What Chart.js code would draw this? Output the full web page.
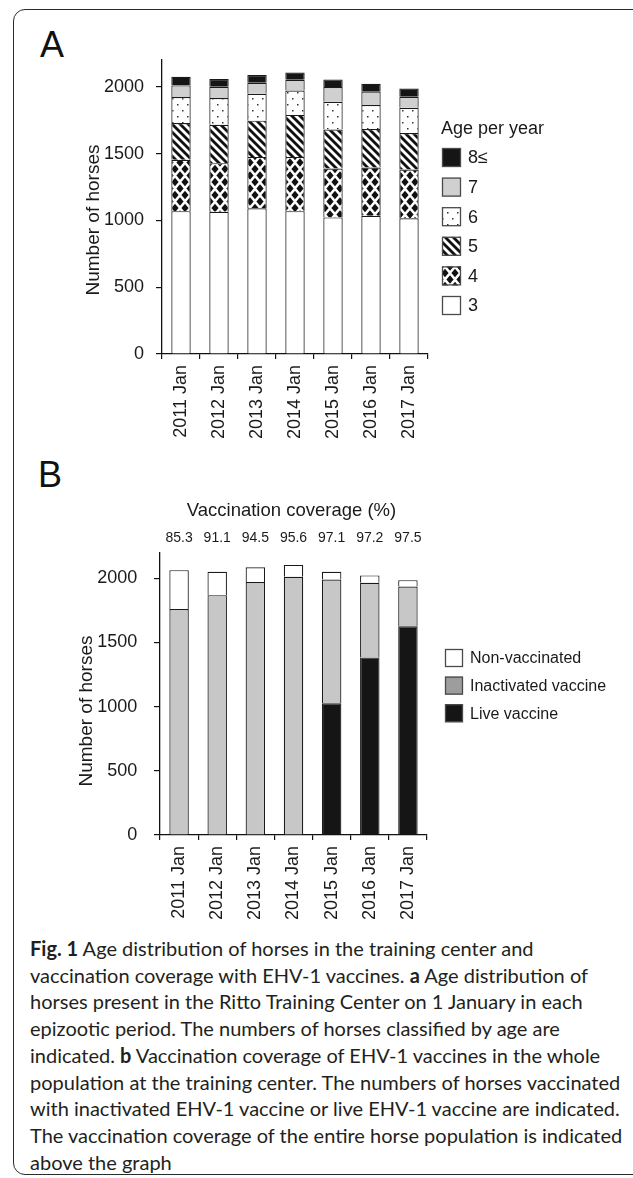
<!DOCTYPE html>
<html>
<head>
<meta charset="utf-8">
<script src="https://cdn.jsdelivr.net/npm/chart.js@4.4.0/dist/chart.umd.min.js"></script>
<style>
  html, body { margin:0; padding:0; background:#fff; }
  body { width:633px; height:1178px; position:relative; overflow:hidden; }
  #frame { position:absolute; left:13px; top:9px; width:700px; height:1166px; border:1.5px solid #2b2b2b; border-radius:12px; box-sizing:border-box; }
  .panel { position:absolute; font-family:'Liberation Sans', Arial, sans-serif; font-size:36px; line-height:1; color:#111; }
  canvas { position:absolute; left:0; }
  #caption { position:absolute; left:30px; top:935px; width:600px; font-family:Lato, 'Noto Sans', sans-serif; font-size:20px; line-height:26.7px; color:#231f20; white-space:nowrap; }
  #caption b { font-weight:700; }
</style>
</head>
<body>
<div id="frame"></div>
<div class="panel" style="left:40px; top:27px;">A</div>
<div class="panel" style="left:38px; top:457px;">B</div>
<canvas id="chartA" width="633" height="460" style="top:0px;"></canvas>
<canvas id="chartB" width="633" height="445" style="top:490px;"></canvas>
<div id="caption"><b>Fig. 1</b> Age distribution of horses in the training center and<br>vaccination coverage with EHV-1 vaccines. <b>a</b> Age distribution of<br>horses present in the Ritto Training Center on 1 January in each<br>epizootic period. The numbers of horses classified by age are<br>indicated. <b>b</b> Vaccination coverage of EHV-1 vaccines in the whole<br>population at the training center. The numbers of horses vaccinated<br>with inactivated EHV-1 vaccine or live EHV-1 vaccine are indicated.<br>The vaccination coverage of the entire horse population is indicated<br>above the graph</div>
<script>
// ---- data ----
const categories = ['2011 Jan', '2012 Jan', '2013 Jan', '2014 Jan', '2015 Jan', '2016 Jan', '2017 Jan'];
const ageLabels = ['3', '4', '5', '6', '7', '8\u2264'];
const age3 = [1069, 1065, 1090, 1069, 1022, 1035, 1015];
const age4 = [384, 363, 385, 406, 366, 361, 366];
const age5 = [276, 288, 271, 314, 291, 288, 273];
const age6 = [194, 200, 202, 183, 209, 179, 189];
const age7 = [87, 84, 82, 80, 110, 100, 82];
const age8plus = [65, 57, 57, 55, 57, 59, 62];
const vaccineLabels = ['Live vaccine', 'Inactivated vaccine', 'Non-vaccinated'];
const liveVaccine = [0, 0, 0, 0, 1027, 1384, 1627];
const inactivatedVaccine = [1761, 1869, 1972, 2012, 964, 582, 309];
const nonVaccinated = [303, 182, 115, 93, 60, 57, 50];
const coverage = [85.3, 91.1, 94.5, 95.6, 97.1, 97.2, 97.5];
const yTicks = [0, 500, 1000, 1500, 2000];

// ---- patterns ----
function makePattern(w, h, draw) {
  const c = document.createElement('canvas');
  c.width = w; c.height = h;
  const g = c.getContext('2d');
  g.fillStyle = '#fff'; g.fillRect(0, 0, w, h);
  draw(g, w, h);
  return g.createPattern(c, 'repeat');
}
const patDiamond = makePattern(10, 13, (g, w, h) => {
  g.fillStyle = '#111';
  const pts = [[5, 0], [5, 13], [0, 6.5], [10, 6.5]];
  pts.forEach(([cx, cy]) => {
    g.beginPath();
    g.moveTo(cx, cy - 4.3); g.lineTo(cx + 3.6, cy); g.lineTo(cx, cy + 4.3); g.lineTo(cx - 3.6, cy);
    g.closePath(); g.fill();
  });
});
const patStripe = makePattern(8, 8, (g, w, h) => {
  g.strokeStyle = '#111'; g.lineWidth = 2.8;
  [-8, 0, 8].forEach(c => { g.beginPath(); g.moveTo(-1, c - 1); g.lineTo(9, c + 9); g.stroke(); });
});
const patDots = makePattern(10, 12, (g) => {
  g.fillStyle = '#333';
  g.fillRect(2, 2, 1.5, 1.5);
  g.fillRect(7, 8, 1.5, 1.5);
});

const FONT = "'Liberation Sans', Arial, sans-serif";
const TXT = '#1a1a1a';

// ---- plugins ----
const yTitlePlugin = {
  id: 'yTitle',
  afterDraw(chart, args, opts) {
    const c = chart.ctx;
    c.save();
    c.font = opts.size + 'px ' + FONT;
    c.fillStyle = TXT;
    c.translate(opts.x, opts.y);
    c.rotate(-Math.PI / 2);
    c.textAlign = 'center';
    c.textBaseline = 'alphabetic';
    c.fillText(opts.text, 0, 0);
    c.restore();
  }
};
const boxLegendPlugin = {
  id: 'boxLegend',
  afterDraw(chart, args, opts) {
    const c = chart.ctx;
    c.save();
    c.fillStyle = TXT;
    if (opts.title) {
      c.font = opts.titleSize + 'px ' + FONT;
      c.textBaseline = 'alphabetic';
      c.textAlign = 'left';
      c.fillText(opts.title, opts.titleX, opts.titleY);
    }
    c.font = opts.size + 'px ' + FONT;
    c.textBaseline = 'middle';
    opts.order.forEach((dsIndex, k) => {
      const ds = chart.data.datasets[dsIndex];
      const y = opts.top + k * opts.step;
      c.fillStyle = (opts.fills && opts.fills[k]) || ds.backgroundColor;
      c.fillRect(opts.x, y, opts.box, opts.box);
      c.strokeStyle = '#4a4a4a'; c.lineWidth = 1.3;
      c.strokeRect(opts.x + 0.5, y + 0.5, opts.box - 1, opts.box - 1);
      c.fillStyle = TXT;
      c.fillText(ds.label, opts.textX, y + opts.box / 2 + 1);
    });
    c.restore();
  }
};
const coveragePlugin = {
  id: 'coverage',
  afterDraw(chart, args, opts) {
    const c = chart.ctx, xs = chart.scales.x, area = chart.chartArea;
    c.save();
    c.fillStyle = TXT;
    c.textAlign = 'center';
    c.textBaseline = 'middle';
    c.font = opts.titleSize + 'px ' + FONT;
    c.fillText(opts.title, (area.left + area.right) / 2 - 2, opts.titleY);
    c.font = opts.size + 'px ' + FONT;
    opts.values.forEach((v, i) => {
      c.fillText(v.toFixed(1), xs.getPixelForValue(i), opts.valueY);
    });
    c.restore();
  }
};

function scalesConfig(yWidth, xHeight, yPad) {
  return {
    x: {
      stacked: true,
      grid: { offset: true, drawOnChartArea: false, drawTicks: true, tickLength: 5, color: '#111', lineWidth: 1.2 },
      border: { display: true, color: '#111', width: 1.3 },
      ticks: { maxRotation: 90, minRotation: 90, autoSkip: false, padding: 6, color: TXT, font: { size: 18, family: FONT } },
      afterFit: s => { s.height = xHeight; }
    },
    y: {
      stacked: true, min: 0, max: 2200,
      afterBuildTicks: s => { s.ticks = yTicks.map(v => ({ value: v })); },
      grid: { drawOnChartArea: false, drawTicks: true, tickLength: 6, color: '#111', lineWidth: 1.2 },
      border: { display: true, color: '#111', width: 1.3 },
      ticks: { padding: yPad, color: TXT, font: { size: 18, family: FONT }, callback: v => String(v) },
      afterFit: s => { s.width = yWidth; }
    }
  };
}
const barDefaults = { categoryPercentage: 1, barPercentage: 0.51, borderColor: '#1a1a1a', borderWidth: 1.2 };

// ---- Chart A ----
new Chart(document.getElementById('chartA'), {
  type: 'bar',
  data: {
    labels: categories,
    datasets: [
      { label: ageLabels[0], data: age3, backgroundColor: '#ffffff' },
      { label: ageLabels[1], data: age4, backgroundColor: patDiamond },
      { label: ageLabels[2], data: age5, backgroundColor: patStripe },
      { label: ageLabels[3], data: age6, backgroundColor: patDots },
      { label: ageLabels[4], data: age7, backgroundColor: '#cfd0cf' },
      { label: ageLabels[5], data: age8plus, backgroundColor: '#151515' }
    ]
  },
  options: {
    responsive: false, animation: false, devicePixelRatio: 1,
    layout: { padding: { top: 60, right: 205, left: 0, bottom: 0 } },
    datasets: { bar: barDefaults },
    plugins: {
      legend: { display: false }, tooltip: { enabled: false },
      yTitle: { text: 'Number of horses', x: 99, y: 220, size: 19 },
      boxLegend: { title: 'Age per year', titleX: 441, titleY: 134, titleSize: 18,
        order: [5, 4, 3, 2, 1, 0], x: 442, top: 148, step: 29.6, box: 19, textX: 468, size: 18 }
    },
    scales: scalesConfig(162, 106, 12)
  },
  plugins: [yTitlePlugin, boxLegendPlugin]
});

// ---- Chart B ----
new Chart(document.getElementById('chartB'), {
  type: 'bar',
  data: {
    labels: categories,
    datasets: [
      { label: vaccineLabels[0], data: liveVaccine, backgroundColor: '#151515' },
      { label: vaccineLabels[1], data: inactivatedVaccine, backgroundColor: '#c6c7c6' },
      { label: vaccineLabels[2], data: nonVaccinated, backgroundColor: '#ffffff' }
    ]
  },
  options: {
    responsive: false, animation: false, devicePixelRatio: 1,
    layout: { padding: { top: 62.7, right: 206, left: 0, bottom: 0 } },
    datasets: { bar: barDefaults },
    plugins: {
      legend: { display: false }, tooltip: { enabled: false },
      yTitle: { text: 'Number of horses', x: 92, y: 221, size: 19 },
      boxLegend: { order: [2, 1, 0], fills: ['#ffffff', '#9d9d9d', '#151515'],
        x: 445, top: 159, step: 27.6, box: 18, textX: 470, size: 16 },
      coverage: { title: 'Vaccination coverage (%)', titleY: 21, titleSize: 18.5, values: coverage, valueY: 48, size: 14 }
    },
    scales: scalesConfig(160, 100, 16.7)
  },
  plugins: [yTitlePlugin, boxLegendPlugin, coveragePlugin]
});
</script>
</body>
</html>
